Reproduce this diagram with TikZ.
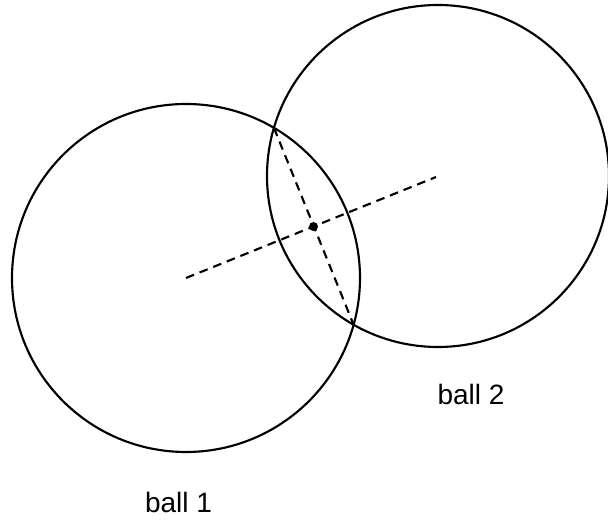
\documentclass[tikz,border=0pt]{standalone}
\usepackage{fontspec}
\setmainfont{Liberation Sans}
\usepackage{tikz}

\tikzset{
    ball/.style={line width=1.6pt},
    axis/.style={line width=1.6pt,dash pattern=on 6.5pt off 4.5pt},
    label/.style={font=\fontsize{21}{25}\selectfont,anchor=base,inner sep=0pt}
}

\begin{document}
\begin{tikzpicture}[x=0.75pt,y=-0.75pt]
            \useasboundingbox (0,0) rectangle (608,523);

            \coordinate (c1) at (186,278);
            \coordinate (c2) at (436,177);
            \coordinate (top) at (274,128);
            \coordinate (bot) at (353.5,324.5);

            \draw[ball] (c1) circle[radius=174];
            \draw[ball] (438,176) circle[radius=171];

            \draw[axis] (c1) -- (c2);
            \draw[axis] (top) -- (bot);

            \fill (313.5,226.5) circle[radius=4.5];

            \node[label] (ball2) at (471,405) {ball 2};
            \node[label] (ball1) at (178.5,512.5) {ball 1};
        \end{tikzpicture}
\end{document}
